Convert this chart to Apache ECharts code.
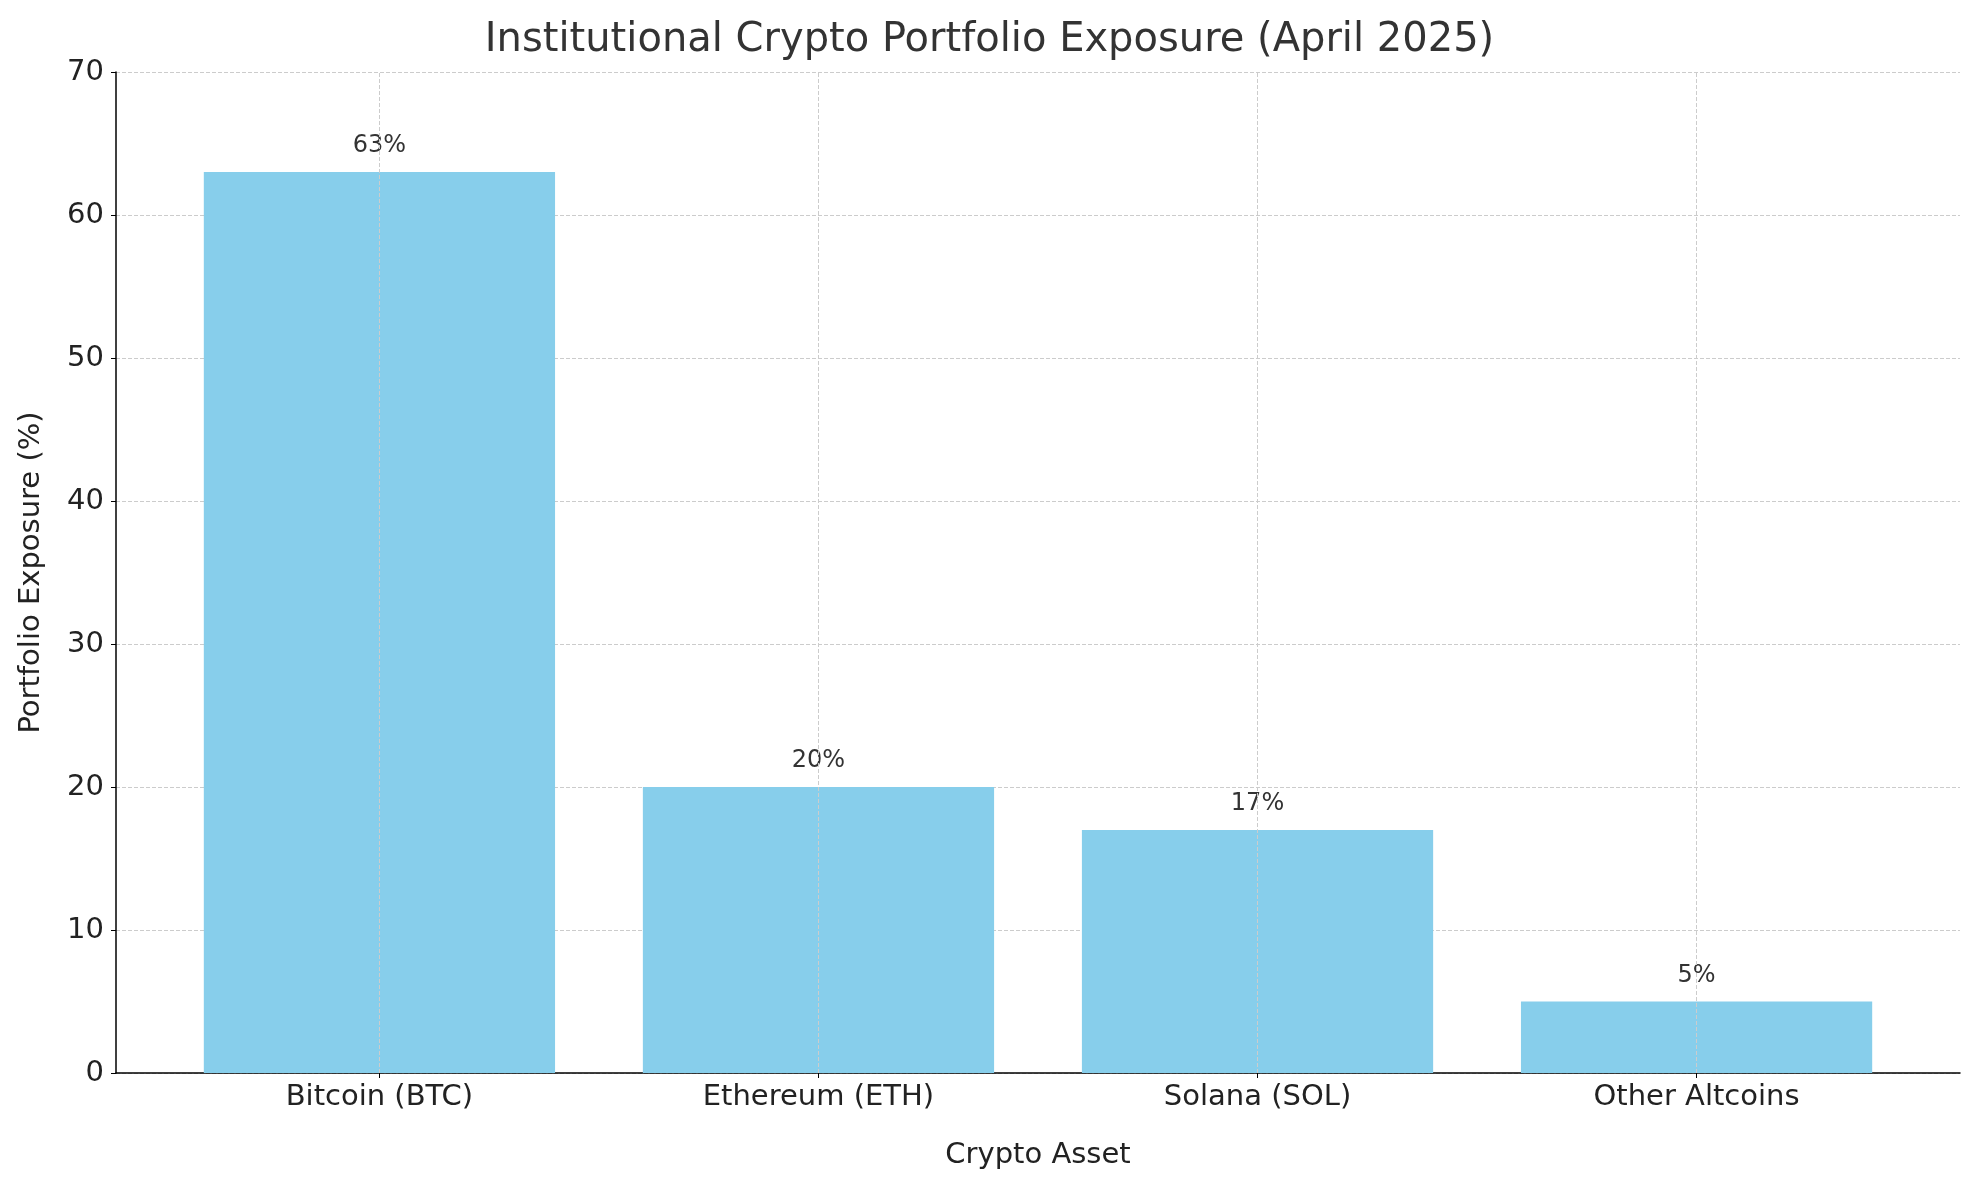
<!DOCTYPE html>
<html>
<head>
<meta charset="utf-8">
<script src="https://cdn.jsdelivr.net/npm/echarts@6/dist/echarts.min.js"></script>
<style>html,body{margin:0;padding:0;background:#fff;}#chart{width:1979px;height:1180px;}</style>
</head>
<body>
<div id="chart"></div>
<script>
// data
var categories = ['Bitcoin (BTC)', 'Ethereum (ETH)', 'Solana (SOL)', 'Other Altcoins'];
var exposure = [63, 20, 17, 5];
var yTicks = [0, 10, 20, 30, 40, 50, 60, 70];

var font = 'DejaVu Sans';
var chart = echarts.init(document.getElementById('chart'));
var plotW = 1979 - 116 - 19;

chart.setOption({
    backgroundColor: '#fff',
    animation: false,
    textStyle: {fontFamily: font},
    title: {
        text: 'Institutional Crypto Portfolio Exposure (April 2025)',
        left: 'center', top: 16,
        textStyle: {fontFamily: font, fontSize: 40, fontWeight: 'normal', color: '#333'}
    },
    grid: {left: 116, right: 19, top: 72, bottom: 107},
    xAxis: {
        type: 'value', min: -0.6, max: 3.6,
        name: 'Crypto Asset', nameLocation: 'middle', nameGap: 68,
        nameTextStyle: {fontSize: 29, color: '#222', fontFamily: font},
        axisLine: {show: true, onZero: false, lineStyle: {color: '#000', width: 1.5}},
        axisTick: {show: true, customValues: [0, 1, 2, 3], lineStyle: {color: '#000'}},
        axisLabel: {customValues: [0, 1, 2, 3], fontSize: 29, color: '#222', margin: 10,
            formatter: function (v) { return categories[Math.round(v)]; }},
        splitLine: {show: false}
    },
    yAxis: {
        type: 'value', min: 0, max: 70, interval: 10,
        name: 'Portfolio Exposure (%)', nameLocation: 'middle', nameGap: 70,
        nameTextStyle: {fontSize: 29, color: '#222', fontFamily: font},
        axisLine: {show: true, onZero: false, lineStyle: {color: '#000', width: 1.5}},
        axisTick: {show: true, lineStyle: {color: '#000'}},
        axisLabel: {fontSize: 29, color: '#222', margin: 12},
        splitLine: {show: true, lineStyle: {type: 'dashed', color: '#ccc'}}
    },
    series: [{
        type: 'bar',
        barWidth: plotW * 0.8 / 4.2,
        itemStyle: {color: '#87CEEB'},
        data: exposure.map(function (v, i) { return [i, v]; }),
        label: {show: true, position: 'top', distance: 14, fontSize: 24, color: '#333',
            formatter: function (p) { return p.value[1] + '%'; }},
        markLine: {
            symbol: 'none', silent: true, z: 5,
            label: {show: false},
            lineStyle: {type: 'dashed', color: '#ccc', width: 1},
            data: [0, 1, 2, 3].map(function (i) { return {xAxis: i}; })
        }
    }]
});
</script>
</body>
</html>
